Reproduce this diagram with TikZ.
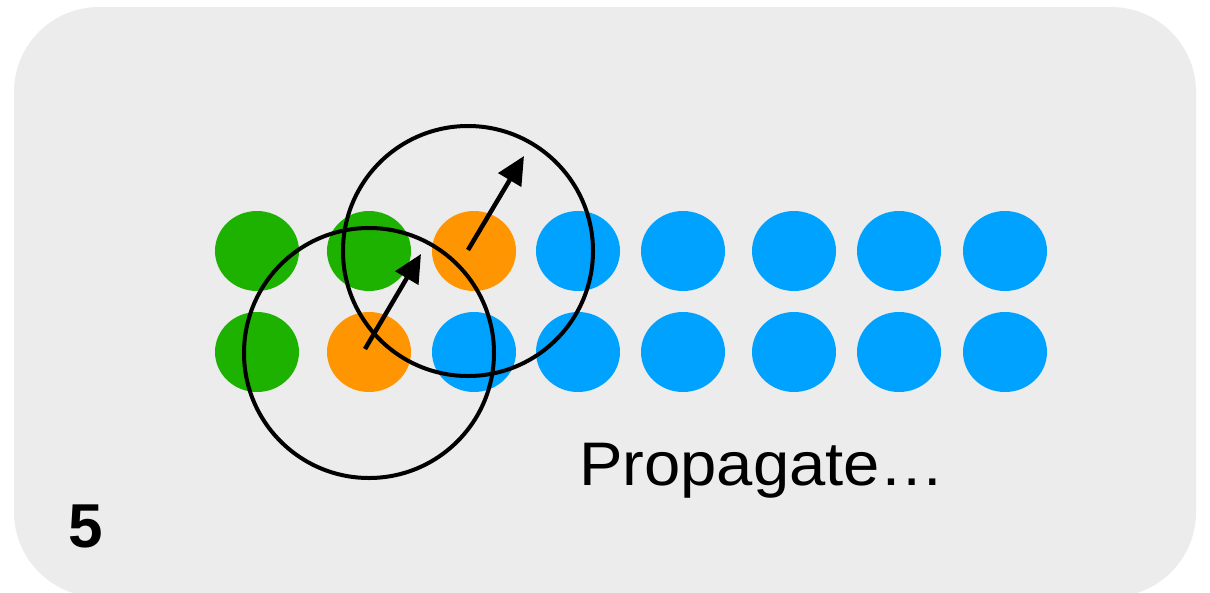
\documentclass[tikz,border=0pt]{standalone}
\usepackage{fontspec}
\setmainfont{Liberation Sans}
\newfontfamily\lblfont[FakeStretch=1.06]{Liberation Sans}
\usetikzlibrary{shapes.geometric,arrows.meta}
\definecolor{bgc}{HTML}{ECECEC}
\definecolor{dgreen}{HTML}{1DB100}
\definecolor{dorange}{HTML}{FF9500}
\definecolor{dblue}{HTML}{00A2FF}
\tikzset{
  dot/.style={ellipse,inner sep=0pt,minimum width=84pt,minimum height=80pt,draw=none},
  gdot/.style={dot,fill=dgreen},
  odot/.style={dot,fill=dorange},
  bdot/.style={dot,fill=dblue},
  ring/.style={circle,draw=black,line width=4pt,minimum size=250pt,inner sep=0pt},
  arr/.style={line width=4.5pt,-{Triangle[length=28pt,width=26pt]}},
}
\begin{document}
\begin{tikzpicture}[x=1pt,y=-1pt]
\useasboundingbox (0,0) rectangle (1210,592);
\fill[white] (0,0) rectangle (1210,592);
\clip (0,0) rectangle (1210,592);
\fill[bgc,rounded corners=85pt] (14,7) rectangle (1196,597);
% row 1
\node[gdot] (a1) at (257,251) {};
\node[gdot] (a2) at (369,251) {};
\node[odot] (a3) at (474,251) {};
\node[bdot] (a4) at (578,251) {};
\node[bdot] (a5) at (683,251) {};
\node[bdot] (a6) at (794,251) {};
\node[bdot] (a7) at (899,251) {};
\node[bdot] (a8) at (1005,251) {};
% row 2
\node[gdot] (b1) at (257,352) {};
\node[odot] (b2) at (369,352) {};
\node[bdot] (b3) at (474,352) {};
\node[bdot] (b4) at (578,352) {};
\node[bdot] (b5) at (683,352) {};
\node[bdot] (b6) at (794,352) {};
\node[bdot] (b7) at (899,352) {};
\node[bdot] (b8) at (1005,352) {};
% rings
\node[ring] (r1) at (369,353) {};
\node[ring] (r2) at (468,251) {};
% arrows
\coordinate (s1) at (365,349);
\coordinate (t1) at (421,254);
\coordinate (s2) at (468,250);
\coordinate (t2) at (524,156);
\draw[arr] (s1) -- (t1);
\draw[arr] (s2) -- (t2);
% texts
\node[anchor=base west,inner sep=0pt,font=\lblfont\fontsize{61.5}{70}\selectfont] (lbl) at (579,485) {Propagate…};
\node[anchor=base west,inner sep=0pt,font=\fontsize{62}{70}\selectfont\bfseries] (num) at (68,547) {5};
\end{tikzpicture}
\end{document}
